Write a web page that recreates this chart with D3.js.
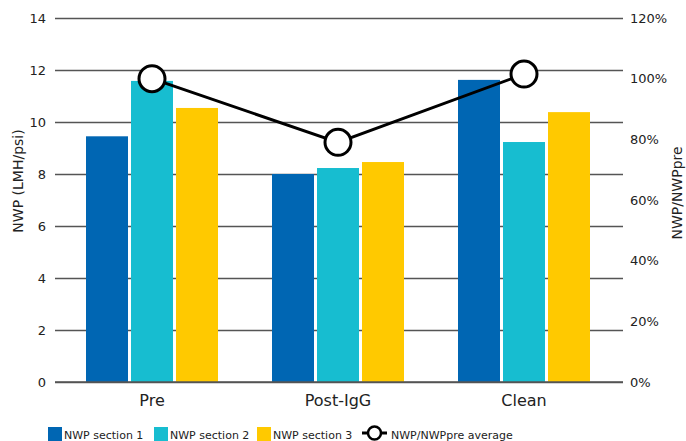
<!DOCTYPE html>
<html>
<head>
<meta charset="utf-8">
<script src="https://cdn.jsdelivr.net/npm/d3@7"></script>
<style>
  html, body { margin: 0; padding: 0; background: #fff; }
  svg { display: block; font-family: Verdana, "DejaVu Sans", sans-serif; }
</style>
</head>
<body>
<svg id="chart" width="686" height="441"></svg>
<script>
// Normalised water permeability by filter section, per stage
const categories = ["Pre", "Post-IgG", "Clean"];
const seriesNames = ["NWP section 1", "NWP section 2", "NWP section 3"];
const section1 = [9.45, 8.0, 11.62];
const section2 = [11.58, 8.23, 9.23];
const section3 = [10.54, 8.46, 10.38];
const ratioAverage = [1.00, 0.79, 1.015];   // NWP/NWPpre average
const leftTicks = [0, 2, 4, 6, 8, 10, 12, 14];
const rightTicks = [0, 0.2, 0.4, 0.6, 0.8, 1.0, 1.2];
const colors = ["#0066b3", "#17bdd0", "#ffc900"];
const lineName = "NWP/NWPpre average";

const svg = d3.select("#chart");
const plot = { left: 55, right: 623, top: 18, bottom: 382 };

const x = d3.scaleBand().domain(categories).range([59, 617]).paddingInner(0).paddingOuter(0);
const yL = d3.scaleLinear().domain([0, 14]).range([plot.bottom, plot.top]);
const yR = d3.scaleLinear().domain([0, 1.2]).range([plot.bottom, plot.top]);

// Horizontal gridlines + left tick labels
const leftAxis = d3.axisLeft(yL).tickValues(leftTicks).tickSize(-(plot.right - plot.left)).tickPadding(9);
const gL = svg.append("g").attr("transform", `translate(${plot.left},0)`).call(leftAxis);
gL.select(".domain").remove();
gL.selectAll(".tick line").attr("stroke", "#555").attr("stroke-width", 1.3);
gL.selectAll(".tick text").attr("font-size", 13).attr("fill", "#222")
  .attr("font-family", "Verdana, 'DejaVu Sans', sans-serif");

// Right axis labels
const rightAxis = d3.axisRight(yR).tickValues(rightTicks).tickSize(0).tickPadding(7)
  .tickFormat(d3.format(".0%"));
const gR = svg.append("g").attr("transform", `translate(${plot.right},0)`).call(rightAxis);
gR.select(".domain").remove();
gR.selectAll(".tick text").attr("font-size", 13).attr("fill", "#222")
  .attr("font-family", "Verdana, 'DejaVu Sans', sans-serif");

// Grouped bars
const series = [section1, section2, section3];
const barW = 42, barGap = 3;
const groupW = barW * 3 + barGap * 2;
const sub = d3.scaleBand().domain(d3.range(3)).range([0, groupW]).paddingInner(barGap / (barW + barGap));

series.forEach((vals, si) => {
  svg.append("g").selectAll("rect").data(vals).join("rect")
    .attr("x", (d, i) => x(categories[i]) + (x.bandwidth() - groupW) / 2 + sub(si))
    .attr("width", sub.bandwidth())
    .attr("y", d => yL(d))
    .attr("height", d => yL(0) - yL(d))
    .attr("fill", colors[si]);
});

// Bottom baseline drawn over bars
svg.append("line").attr("x1", plot.left).attr("x2", plot.right)
  .attr("y1", yL(0)).attr("y2", yL(0)).attr("stroke", "#555").attr("stroke-width", 1.3);

// Category labels
svg.append("g").selectAll("text").data(categories).join("text")
  .attr("x", d => x(d) + x.bandwidth() / 2)
  .attr("y", 406)
  .attr("text-anchor", "middle")
  .attr("font-size", 16).attr("fill", "#222")
  .text(d => d);

// Ratio line with open markers
const cx = (d, i) => x(categories[i]) + x.bandwidth() / 2;
const line = d3.line().x(cx).y(d => yR(d));
svg.append("path").datum(ratioAverage).attr("d", line)
  .attr("fill", "none").attr("stroke", "#000").attr("stroke-width", 3);
svg.append("g").selectAll("circle").data(ratioAverage).join("circle")
  .attr("cx", cx).attr("cy", d => yR(d)).attr("r", 13)
  .attr("fill", "#fff").attr("stroke", "#000").attr("stroke-width", 3);

// Axis titles
svg.append("text").attr("transform", "translate(23,181) rotate(-90)")
  .attr("text-anchor", "middle").attr("font-size", 14).attr("fill", "#222").text("NWP (LMH/psi)");
svg.append("text").attr("transform", "translate(682,193) rotate(-90)")
  .attr("text-anchor", "middle").attr("font-size", 14).attr("fill", "#222").text("NWP/NWPpre");

// Legend
const legend = svg.append("g");
const swatchX = [48, 154, 257];
seriesNames.forEach((name, i) => {
  legend.append("rect").attr("x", swatchX[i]).attr("y", 427).attr("width", 14).attr("height", 14)
    .attr("fill", colors[i]);
  legend.append("text").attr("x", swatchX[i] + 16).attr("y", 438.5)
    .attr("font-size", 11).attr("fill", "#222").text(name);
});
legend.append("line").attr("x1", 362).attr("x2", 387).attr("y1", 433).attr("y2", 433)
  .attr("stroke", "#000").attr("stroke-width", 3);
legend.append("circle").attr("cx", 374.5).attr("cy", 433).attr("r", 6.5)
  .attr("fill", "#fff").attr("stroke", "#000").attr("stroke-width", 2.5);
legend.append("text").attr("x", 391).attr("y", 438.5)
  .attr("font-size", 11).attr("fill", "#222").text(lineName);
</script>
</body>
</html>
